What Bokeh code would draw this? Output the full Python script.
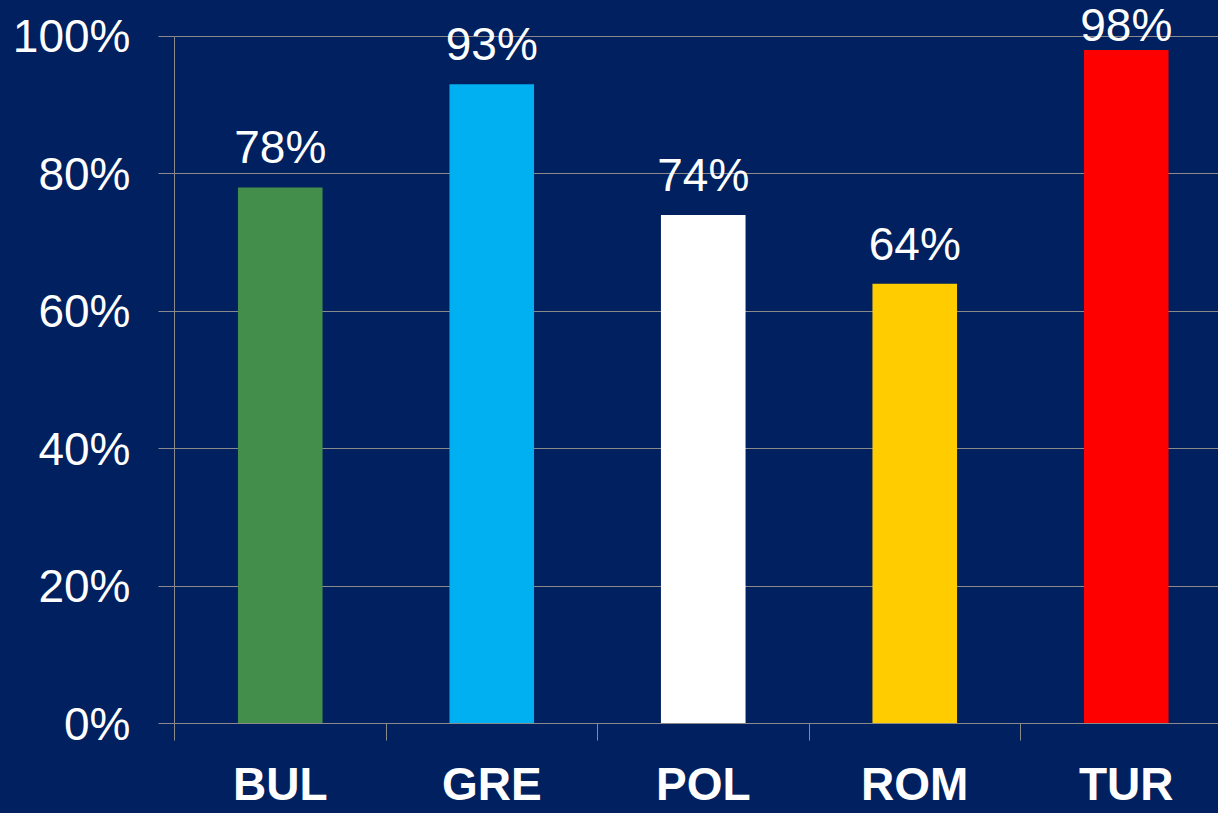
import numpy as np
from bokeh.plotting import figure
from bokeh.models import Range1d, FixedTicker, ColumnDataSource
from bokeh.embed import file_html
from bokeh.resources import INLINE
from bokeh.core.properties import value

# ---- data ----
countries = ["BUL", "GRE", "POL", "ROM", "TUR"]
shares = [78, 93, 74, 64, 98]
bar_colors = ["#448E4B", "#00B0F0", "#FFFFFF", "#FFCC00", "#FF0000"]
y_ticks = [0, 20, 40, 60, 80, 100]
y_tick_labels = ["0%", "20%", "40%", "60%", "80%", "100%"]

# ---- style ----
BG = "#002060"
GRID = "#8A8A8A"
FONT = "Liberation Sans"
FS = "46px"

xpos = np.arange(len(countries)) + 0.5
labels = [f"{v}%" for v in shares]
# label sits ~22px above the bar, but is kept inside the plot area at the top
label_y = np.minimum(np.array(shares, dtype=float) + 3.2, 99.0)

src = ColumnDataSource(dict(x=xpos, top=shares, color=bar_colors,
                            label=labels, ly=label_y))

p = figure(width=1218, height=813, frame_width=1044, frame_height=723,
           x_range=Range1d(0, 1044 / 211.5), y_range=Range1d(0, 105.2),
           output_backend="svg", toolbar_location=None,
           min_border_left=174, min_border_right=0, min_border_top=0,
           min_border_bottom=90)
p.background_fill_color = BG
p.border_fill_color = BG
p.outline_line_color = None

p.vbar(x="x", top="top", bottom=0, width=0.4, fill_color="color",
       line_color=None, source=src)
p.text(x="x", y="ly", text="label", text_align="center",
       text_baseline="alphabetic", y_offset=-18, text_font=value(FONT),
       text_font_size=FS, text_color="white", source=src)

# x axis
xa = p.xaxis[0]
xa.ticker = FixedTicker(ticks=list(xpos), minor_ticks=list(range(len(countries))))
xa.major_label_overrides = {float(x): c for x, c in zip(xpos, countries)}
xa.axis_line_color = GRID
xa.major_tick_line_color = None
xa.major_tick_out = 17
xa.major_tick_in = 0
xa.minor_tick_line_color = GRID
xa.minor_tick_out = 17
xa.minor_tick_in = 0
xa.major_label_text_font = FONT
xa.major_label_text_font_size = FS
xa.major_label_text_font_style = "bold"
xa.major_label_text_color = "white"
xa.major_label_standoff = 17

# y axis
ya = p.yaxis[0]
ya.bounds = (0, 100)
ya.ticker = FixedTicker(ticks=y_ticks, minor_ticks=[])
ya.major_label_overrides = {t: l for t, l in zip(y_ticks, y_tick_labels)}
ya.axis_line_color = GRID
ya.major_tick_line_color = GRID
ya.major_tick_out = 16
ya.major_tick_in = 0
ya.minor_tick_line_color = None
ya.major_label_text_font = FONT
ya.major_label_text_font_size = FS
ya.major_label_text_color = "white"
ya.major_label_standoff = 28

p.xgrid.grid_line_color = None
p.ygrid.ticker = FixedTicker(ticks=y_ticks, minor_ticks=[])
p.ygrid.grid_line_color = GRID
p.ygrid.grid_line_width = 1

html = file_html(p, INLINE, title="chart")
html = html.replace("</head>",
                    "<style>html,body{margin:0;padding:0;background:#002060;overflow:hidden}</style></head>", 1)
open("out.html", "w").write(html)
